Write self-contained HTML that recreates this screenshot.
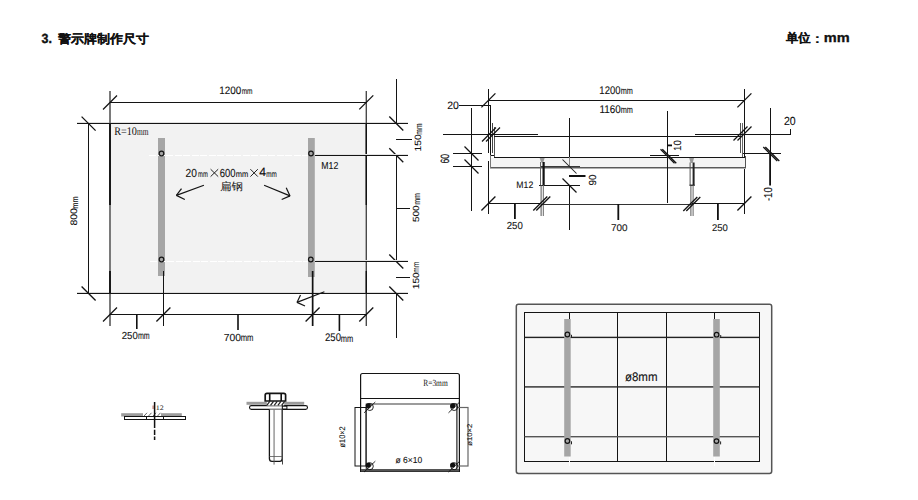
<!DOCTYPE html><html><head><meta charset="utf-8"><style>html,body{margin:0;padding:0;background:#fff;overflow:hidden}svg{display:block}</style></head><body>
<svg width="918" height="500" viewBox="0 0 918 500">
<rect width="918" height="500" fill="#fff"/>
<g id="rest">
<rect x="110" y="124" width="256" height="169" fill="#f2f2f2"/>
<rect x="158" y="138" width="7" height="138" fill="#a6a6a6"/>
<rect x="308" y="138" width="6.8" height="139" fill="#a6a6a6"/>
<line x1="149" y1="155.5" x2="308" y2="155.5" stroke="#fff" stroke-width="1" shape-rendering="crispEdges" stroke-dasharray="7 1.5"/>
<line x1="150" y1="261.5" x2="308" y2="261.5" stroke="#fff" stroke-width="1" shape-rendering="crispEdges" stroke-dasharray="7 1.5"/>
<rect x="77" y="122" width="331" height="1" fill="#e0e0e0"/>
<rect x="77" y="123" width="331" height="1" fill="#141414"/>
<rect x="77" y="292" width="331" height="1" fill="#dcdcdc"/>
<rect x="77" y="293" width="331" height="1" fill="#141414"/>
<rect x="109" y="91" width="2" height="235" fill="#7a7a7a"/>
<rect x="109" y="123" width="2" height="82" fill="#1a1a1a"/>
<rect x="109" y="271" width="2" height="23" fill="#1a1a1a"/>
<rect x="365.6" y="91" width="1.4" height="235" fill="#4a4a4a"/>
<rect x="365.6" y="123" width="1.4" height="82" fill="#111"/>
<rect x="365.6" y="271" width="1.4" height="23" fill="#111"/>
<rect x="110" y="102" width="257" height="1" fill="#141414"/>
<line x1="103" y1="109.5" x2="117" y2="95.5" stroke="#141414" stroke-width="1.3" />
<line x1="359.3" y1="109.4" x2="373.3" y2="95.4" stroke="#141414" stroke-width="1.3" />
<rect x="88" y="123" width="1" height="171" fill="#141414"/>
<line x1="81.6" y1="116.6" x2="95.6" y2="130.6" stroke="#141414" stroke-width="1.3" />
<line x1="81.6" y1="286.5" x2="95.6" y2="300.5" stroke="#141414" stroke-width="1.3" />
<rect x="396" y="79" width="1" height="45" fill="#141414"/>
<rect x="396" y="155" width="1" height="107" fill="#141414"/>
<rect x="396" y="293" width="1" height="45" fill="#141414"/>
<line x1="389.3" y1="116.5" x2="403.3" y2="130.5" stroke="#141414" stroke-width="1.3" />
<line x1="389.3" y1="148.3" x2="403.3" y2="162.3" stroke="#141414" stroke-width="1.3" />
<line x1="389.3" y1="254.5" x2="403.3" y2="268.5" stroke="#141414" stroke-width="1.3" />
<line x1="389.3" y1="286.5" x2="403.3" y2="300.5" stroke="#141414" stroke-width="1.3" />
<rect x="316" y="154" width="92" height="1" fill="#e4e4e4"/>
<rect x="315" y="155" width="93" height="1" fill="#141414"/>
<rect x="316" y="260" width="92" height="1" fill="#e4e4e4"/>
<rect x="315" y="261" width="93" height="1" fill="#141414"/>
<rect x="396" y="139" width="16" height="1" fill="#141414"/>
<rect x="396" y="208" width="14" height="1" fill="#141414"/>
<rect x="396" y="277" width="14" height="1" fill="#141414"/>
<circle cx="161.5" cy="153.5" r="2.3" fill="none" stroke="#141414" stroke-width="1.2"/>
<circle cx="161.5" cy="259.5" r="2.3" fill="none" stroke="#141414" stroke-width="1.2"/>
<circle cx="311" cy="153.5" r="2.3" fill="none" stroke="#141414" stroke-width="1.2"/>
<circle cx="310.8" cy="259.5" r="2.3" fill="none" stroke="#141414" stroke-width="1.2"/>
<rect x="163" y="271" width="1" height="55" fill="#141414"/>
<rect x="311.8" y="271" width="1.7" height="55" fill="#111"/>
<rect x="110" y="314" width="257" height="1" fill="#141414"/>
<line x1="103" y1="321.5" x2="117" y2="307.5" stroke="#141414" stroke-width="1.3" />
<line x1="156.4" y1="321.5" x2="170.4" y2="307.5" stroke="#141414" stroke-width="1.3" />
<line x1="305.6" y1="321.5" x2="319.6" y2="307.5" stroke="#141414" stroke-width="1.3" />
<line x1="359.3" y1="321.5" x2="373.3" y2="307.5" stroke="#141414" stroke-width="1.3" />
<rect x="136" y="314" width="1.6" height="15" fill="#111"/>
<rect x="237.2" y="314" width="1.6" height="16" fill="#111"/>
<rect x="338.6" y="314" width="1.6" height="17" fill="#111"/>
<line x1="210.6" y1="169.2" x2="218.2" y2="176.6" stroke="#222" stroke-width="1.0" />
<line x1="218.2" y1="169.2" x2="210.6" y2="176.6" stroke="#222" stroke-width="1.0" />
<line x1="250.4" y1="169.2" x2="257.8" y2="176.6" stroke="#222" stroke-width="1.0" />
<line x1="257.8" y1="169.2" x2="250.4" y2="176.6" stroke="#222" stroke-width="1.0" />
<line x1="203.9" y1="185.2" x2="176.4" y2="195.4" stroke="#141414" stroke-width="1.2" />
<line x1="176.4" y1="195.4" x2="181.5" y2="188.6" stroke="#141414" stroke-width="1.2" />
<line x1="176.4" y1="195.4" x2="184.8" y2="199.5" stroke="#141414" stroke-width="1.2" />
<line x1="264.1" y1="185.2" x2="290" y2="195.9" stroke="#141414" stroke-width="1.2" />
<line x1="290" y1="195.9" x2="286.2" y2="187.8" stroke="#141414" stroke-width="1.2" />
<line x1="290" y1="195.9" x2="281.7" y2="199.5" stroke="#141414" stroke-width="1.2" />
<line x1="324.4" y1="291.8" x2="297" y2="302.4" stroke="#141414" stroke-width="1.2" />
<line x1="297" y1="302.4" x2="300.5" y2="295" stroke="#141414" stroke-width="1.2" />
<line x1="297" y1="302.4" x2="305" y2="306" stroke="#141414" stroke-width="1.2" />
<rect x="488" y="89" width="1" height="64" fill="#141414"/>
<rect x="488" y="161" width="1" height="53" fill="#141414"/>
<rect x="744" y="89" width="1" height="125" fill="#141414"/>
<rect x="471" y="108" width="1" height="103" fill="#141414"/>
<rect x="488" y="100" width="257" height="1" fill="#141414"/>
<line x1="481.4" y1="107.4" x2="495.4" y2="93.4" stroke="#141414" stroke-width="1.3" />
<line x1="737.4" y1="107.4" x2="751.4" y2="93.4" stroke="#141414" stroke-width="1.3" />
<rect x="459" y="105" width="32" height="1" fill="#141414"/>
<rect x="490" y="105" width="1" height="51" fill="#141414"/>
<rect x="492" y="123" width="1" height="30" fill="#444"/>
<rect x="494" y="127" width="1" height="37" fill="#555"/>
<rect x="740" y="123" width="1" height="30" fill="#555"/>
<rect x="742" y="123" width="1" height="34" fill="#666"/>
<rect x="443" y="134" width="95" height="1" fill="#141414"/>
<rect x="494" y="136" width="247" height="1" fill="#141414"/>
<rect x="695" y="134" width="96" height="1" fill="#141414"/>
<rect x="790" y="129" width="1" height="6" fill="#141414"/>
<line x1="482" y1="141.5" x2="496" y2="127.5" stroke="#141414" stroke-width="1.3" />
<line x1="486" y1="141.5" x2="500" y2="127.5" stroke="#141414" stroke-width="1.3" />
<line x1="733.5" y1="140.5" x2="747.5" y2="126.5" stroke="#141414" stroke-width="1.3" />
<line x1="737.5" y1="140.5" x2="751.5" y2="126.5" stroke="#141414" stroke-width="1.3" />
<rect x="490.5" y="158" width="255" height="9" fill="#f4f4f4"/>
<rect x="494" y="157" width="251" height="1" fill="#141414"/>
<rect x="490" y="155" width="4" height="1" fill="#141414"/>
<rect x="490" y="167" width="256" height="1" fill="#5a5a5a"/>
<rect x="490" y="168" width="256" height="1" fill="#b0b0b0"/>
<rect x="490" y="155" width="1" height="13" fill="#777"/>
<rect x="745" y="156" width="1" height="12" fill="#555"/>
<rect x="743" y="153" width="38" height="1" fill="#141414"/>
<rect x="453" y="153" width="29" height="1" fill="#141414"/>
<rect x="453" y="166" width="29" height="1" fill="#141414"/>
<line x1="464.5" y1="146.5" x2="478.5" y2="160.5" stroke="#141414" stroke-width="1.3" />
<line x1="464.5" y1="159.5" x2="478.5" y2="173.5" stroke="#141414" stroke-width="1.3" />
<rect x="569" y="118" width="1" height="39" fill="#141414"/>
<rect x="569" y="157" width="1" height="9" fill="#888"/>
<rect x="569" y="185" width="1" height="45" fill="#141414"/>
<rect x="541" y="166" width="39" height="1" fill="#3a3a3a"/>
<rect x="539" y="185" width="41" height="1" fill="#141414"/>
<line x1="562.5" y1="159.5" x2="576.5" y2="173.5" stroke="#222" stroke-width="1.05" />
<line x1="562.5" y1="178.5" x2="576.5" y2="192.5" stroke="#141414" stroke-width="1.3" />
<rect x="569" y="175" width="16.5" height="2" fill="#111"/>
<path d="M539.7 158 L544.6 158 L543.2 162.5 L541.2 162.5 Z" fill="#9a9a9a"/>
<rect x="540" y="162" width="1" height="23" fill="#666"/>
<rect x="542.5" y="162" width="2.2" height="23" fill="#111"/>
<rect x="540.6" y="185" width="1" height="31" fill="#555"/>
<rect x="542.8" y="185" width="1" height="31" fill="#666"/>
<rect x="667" y="111" width="1" height="92" fill="#141414"/>
<rect x="650" y="155" width="29" height="1" fill="#141414"/>
<line x1="660.5" y1="149.3" x2="674.5" y2="163.3" stroke="#141414" stroke-width="1.3" />
<line x1="662.3" y1="149.3" x2="676.3" y2="163.3" stroke="#141414" stroke-width="1.3" />
<rect x="667" y="144.5" width="5" height="1.8" fill="#111"/>
<path d="M689.2 158 L694 158 L692.6 163 L690.6 163 Z" fill="#9a9a9a"/>
<rect x="689.6" y="162.5" width="1" height="23" fill="#555"/>
<rect x="692.6" y="162.5" width="2" height="23" fill="#222"/>
<rect x="689.6" y="184.6" width="5" height="1.4" fill="#222"/>
<rect x="690.4" y="185" width="1" height="31" fill="#555"/>
<rect x="692.6" y="185" width="1" height="31" fill="#666"/>
<rect x="488" y="203" width="53" height="1" fill="#141414"/>
<rect x="541" y="204" width="151" height="1" fill="#333"/>
<rect x="692" y="203" width="53" height="1" fill="#141414"/>
<line x1="481.4" y1="210.5" x2="495.4" y2="196.5" stroke="#141414" stroke-width="1.3" />
<line x1="533.3" y1="210.5" x2="547.3" y2="196.5" stroke="#141414" stroke-width="1.3" />
<line x1="536.3" y1="210.5" x2="550.3" y2="196.5" stroke="#141414" stroke-width="1.3" />
<line x1="683.3" y1="211" x2="697.3" y2="197" stroke="#141414" stroke-width="1.3" />
<line x1="686.3" y1="211" x2="700.3" y2="197" stroke="#141414" stroke-width="1.3" />
<line x1="737.4" y1="210.5" x2="751.4" y2="196.5" stroke="#141414" stroke-width="1.3" />
<rect x="514" y="203" width="1.8" height="16" fill="#111"/>
<rect x="617.4" y="204" width="1.8" height="16" fill="#111"/>
<rect x="717" y="203" width="1.8" height="17" fill="#111"/>
<rect x="770" y="108" width="1" height="46" fill="#141414"/>
<rect x="769.2" y="154" width="1.8" height="31.5" fill="#111"/>
<line x1="763.3" y1="147" x2="777.3" y2="161" stroke="#141414" stroke-width="1.3" />
<line x1="765.3" y1="147" x2="779.3" y2="161" stroke="#141414" stroke-width="1.3" />
<rect x="121.2" y="413.2" width="21.8" height="3.3" fill="#9c9c9c"/>
<rect x="161" y="413.2" width="20.8" height="3.3" fill="#9c9c9c"/>
<line x1="143.5" y1="416.6" x2="147.0" y2="412.8" stroke="#555" stroke-width="0.9" />
<line x1="148.0" y1="416.6" x2="151.5" y2="412.8" stroke="#555" stroke-width="0.9" />
<line x1="152.5" y1="416.6" x2="156.0" y2="412.8" stroke="#555" stroke-width="0.9" />
<line x1="157.0" y1="416.6" x2="160.5" y2="412.8" stroke="#555" stroke-width="0.9" />
<rect x="124.5" y="416.5" width="61" height="3" fill="#fff" stroke="#141414" stroke-width="1"/>
<rect x="146" y="416" width="1" height="4" fill="#141414"/>
<rect x="163" y="416" width="1" height="4" fill="#141414"/>
<path d="M154.6 402 V428 M154.6 429.8 V435 M154.6 436.5 V440" stroke="#111" stroke-width="1.5" fill="none"/>
<rect x="152.6" y="405.5" width="1" height="3.5" fill="#a54"/>
<rect x="246.5" y="401.8" width="57.7" height="3" fill="#9c9c9c"/>
<rect x="249.5" y="405.6" width="58" height="3.8" rx="1.9" fill="#fff" stroke="#141414" stroke-width="1.1"/>
<rect x="266.8" y="401.2" width="17.4" height="4.4" fill="#fff"/>
<line x1="266.8" y1="405.4" x2="269.8" y2="401.4" stroke="#222" stroke-width="1.2" />
<line x1="270.5" y1="405.4" x2="273.5" y2="401.4" stroke="#222" stroke-width="1.2" />
<line x1="274.2" y1="405.4" x2="277.2" y2="401.4" stroke="#222" stroke-width="1.2" />
<line x1="277.90000000000003" y1="405.4" x2="280.90000000000003" y2="401.4" stroke="#222" stroke-width="1.2" />
<line x1="281.6" y1="405.4" x2="284.6" y2="401.4" stroke="#222" stroke-width="1.2" />
<path d="M265.2 401 V395 Q265.2 393.3 267 393.3 H283.8 Q285.6 393.3 285.6 395 V401 Z" fill="#fff" stroke="#141414" stroke-width="1.7"/>
<rect x="268.9" y="393.5" width="1.6" height="7.5" fill="#111"/>
<rect x="280.4" y="393.5" width="1.6" height="7.5" fill="#111"/>
<path d="M269.4 409.4 L269.4 458.5 Q269.4 461.4 272 461.4 L279.6 461.4 Q282.2 461.4 282.2 458.5 L282.2 409.4" fill="#fff" stroke="#141414" stroke-width="1.3"/>
<rect x="273.6" y="409.6" width="0.9" height="55" fill="#555"/>
<rect x="282" y="405" width="1" height="59.5" fill="#444"/>
<rect x="282.3" y="406.2" width="4.6" height="2.8" fill="#fff" stroke="#111" stroke-width="1"/>
<line x1="269.5" y1="456.5" x2="282" y2="456.5" stroke="#555" stroke-width="0.8" />
<path d="M360.6 471.5 L360.6 375.5 Q360.6 373.5 362.6 373.5 L457.4 373.5 Q459.4 373.5 459.4 375.5 L459.4 471.5 Z" fill="#fff" stroke="#141414" stroke-width="1.2"/>
<rect x="360" y="398" width="100" height="1" fill="#141414"/>
<rect x="366.2" y="404" width="90.5" height="65.5" fill="none" stroke="#3a3a3a" stroke-width="1"/>
<rect x="361" y="469" width="98" height="2.5" fill="#555"/>
<rect x="355" y="407.5" width="11" height="58.5" fill="none" stroke="#141414" stroke-width="1"/>
<rect x="457" y="407.5" width="11" height="58.5" fill="none" stroke="#666" stroke-width="1.2"/>
<circle cx="368.3" cy="405.8" r="2.6" fill="#111"/>
<circle cx="369.8" cy="407.0" r="3.5" fill="none" stroke="#111" stroke-width="0.9"/>
<line x1="364.1" y1="412.8" x2="375.3" y2="402.0" stroke="#141414" stroke-width="0.9" />
<circle cx="452.7" cy="405.8" r="2.6" fill="#111"/>
<circle cx="454.2" cy="407.0" r="3.5" fill="none" stroke="#111" stroke-width="0.9"/>
<line x1="448.5" y1="412.8" x2="459.7" y2="402.0" stroke="#141414" stroke-width="0.9" />
<circle cx="368.3" cy="465" r="2.6" fill="#111"/>
<circle cx="369.8" cy="466.2" r="3.5" fill="none" stroke="#111" stroke-width="0.9"/>
<line x1="364.1" y1="472" x2="375.3" y2="461.2" stroke="#141414" stroke-width="0.9" />
<circle cx="452.7" cy="465" r="2.6" fill="#111"/>
<circle cx="454.2" cy="466.2" r="3.5" fill="none" stroke="#111" stroke-width="0.9"/>
<line x1="448.5" y1="472" x2="459.7" y2="461.2" stroke="#141414" stroke-width="0.9" />
<rect x="516.3" y="304.3" width="255.4" height="169.1" rx="2.2" fill="#f7f7f7" stroke="#555" stroke-width="1.5"/>
<rect x="524.5" y="312.5" width="235" height="149" fill="none" stroke="#141414" stroke-width="1" shape-rendering="crispEdges"/>
<rect x="617" y="312" width="1" height="149" fill="#141414"/>
<rect x="666" y="312" width="1" height="149" fill="#141414"/>
<rect x="569" y="312" width="1" height="8" fill="#141414"/>
<rect x="569" y="457" width="1" height="9" fill="#fff"/>
<rect x="714" y="312" width="1" height="8" fill="#141414"/>
<rect x="714" y="457" width="1" height="9" fill="#fff"/>
<rect x="524.5" y="336.7" width="235" height="1.4" fill="#222"/>
<rect x="524.5" y="386.2" width="235" height="1.4" fill="#2a2a2a"/>
<rect x="524.5" y="436.0" width="235" height="1.4" fill="#555"/>
<rect x="564.2" y="319" width="6.5" height="137.5" fill="#a6a6a6"/>
<rect x="713.2" y="319" width="6.6" height="137.5" fill="#a6a6a6"/>
<circle cx="567.4" cy="334.5" r="2.3" fill="none" stroke="#111" stroke-width="1.2"/>
<rect x="571.0" y="334.8" width="1" height="3" fill="#222"/>
<circle cx="716.6" cy="334.7" r="2.3" fill="none" stroke="#111" stroke-width="1.2"/>
<rect x="720.2" y="335.0" width="1" height="3" fill="#222"/>
<circle cx="567.4" cy="441" r="2.3" fill="none" stroke="#111" stroke-width="1.2"/>
<rect x="571.0" y="441.3" width="1" height="3" fill="#222"/>
<circle cx="716.5" cy="441.1" r="2.3" fill="none" stroke="#111" stroke-width="1.2"/>
<rect x="720.1" y="441.40000000000003" width="1" height="3" fill="#222"/>
</g>
<g class="tx" id="t_3" transform="translate(41.547 42.679) scale(0.9596 1.0181) "><text x="0" y="0" text-rendering="geometricPrecision" font-family="Liberation Sans" font-size="13" font-weight="bold" fill="#111" stroke="#111" stroke-width="0.35">3.</text></g>
<g class="tx" id="t_title" transform="translate(57.978 42.662) scale(1.0004 0.9389) "><text x="0" y="0" text-rendering="geometricPrecision" font-family="Liberation Sans" font-size="13" font-weight="bold" fill="#111" stroke="#111" stroke-width="0.15">警示牌制作尺寸</text></g>
<g class="tx" id="t_unit" transform="translate(785.945 42.194) scale(0.9445 0.9372) "><text x="0" y="0" text-rendering="geometricPrecision" font-family="Liberation Sans" font-size="13" font-weight="bold" fill="#111" stroke="#111" stroke-width="0.15">单位</text></g>
<g class="tx" id="t_colon" transform="translate(814.578 43.479) scale(1.4218 1.1334) "><text x="0" y="0" text-rendering="geometricPrecision" font-family="Liberation Sans" font-size="12" font-weight="bold" fill="#111">:</text></g>
<g class="tx" id="t_unitmm" transform="translate(823.705 42.111) scale(1.1205 1.0159) "><text x="0" y="0" text-rendering="geometricPrecision" font-family="Liberation Sans" font-size="13" font-weight="bold" fill="#111" stroke="#111" stroke-width="0.3">mm</text></g>
<g class="tx" id="f_1200" transform="translate(219.175 93.574) scale(0.9436 1.0181) "><text x="0" y="0" text-rendering="geometricPrecision" font-family="Liberation Sans" font-size="10.5" font-weight="normal" fill="#111" stroke="#111" stroke-width="0.1">1200</text></g>
<g class="tx" id="f_1200m" transform="translate(241.639 93.688) scale(0.7297 0.9724) "><text x="0" y="0" text-rendering="geometricPrecision" font-family="Liberation Sans" font-size="9" font-weight="normal" fill="#111" stroke="#111" stroke-width="0.1">mm</text></g>
<g class="tx" id="f_800" transform="translate(76.957 225.618) scale(0.9022 0.9954) rotate(-90)"><text x="0" y="0" text-rendering="geometricPrecision" font-family="Liberation Sans" font-size="10.5" font-weight="normal" fill="#111" stroke="#111" stroke-width="0.1">800</text></g>
<g class="tx" id="f_800m" transform="translate(77.878 208.667) scale(0.9785 0.8334) rotate(-90)"><text x="0" y="0" text-rendering="geometricPrecision" font-family="Liberation Sans" font-size="9" font-weight="normal" fill="#111" stroke="#111" stroke-width="0.1">mm</text></g>
<g class="tx" id="f_150a" transform="translate(421.127 151.495) scale(0.8628 0.9806) rotate(-90)"><text x="0" y="0" text-rendering="geometricPrecision" font-family="Liberation Sans" font-size="10.5" font-weight="normal" fill="#111" stroke="#111" stroke-width="0.1">150</text></g>
<g class="tx" id="f_150am" transform="translate(422.208 134.707) scale(1.0417 0.7518) rotate(-90)"><text x="0" y="0" text-rendering="geometricPrecision" font-family="Liberation Sans" font-size="9" font-weight="normal" fill="#111" stroke="#111" stroke-width="0.1">mm</text></g>
<g class="tx" id="f_500" transform="translate(419.343 222.056) scale(0.8454 0.9477) rotate(-90)"><text x="0" y="0" text-rendering="geometricPrecision" font-family="Liberation Sans" font-size="10.5" font-weight="normal" fill="#111" stroke="#111" stroke-width="0.1">500</text></g>
<g class="tx" id="f_500m" transform="translate(420.000 204.791) scale(1.0000 0.7842) rotate(-90)"><text x="0" y="0" text-rendering="geometricPrecision" font-family="Liberation Sans" font-size="9" font-weight="normal" fill="#111" stroke="#111" stroke-width="0.1">mm</text></g>
<g class="tx" id="f_150b" transform="translate(418.744 289.126) scale(0.8454 0.9471) rotate(-90)"><text x="0" y="0" text-rendering="geometricPrecision" font-family="Liberation Sans" font-size="10.5" font-weight="normal" fill="#111" stroke="#111" stroke-width="0.1">150</text></g>
<g class="tx" id="f_150bm" transform="translate(419.400 272.684) scale(1.0000 0.7325) rotate(-90)"><text x="0" y="0" text-rendering="geometricPrecision" font-family="Liberation Sans" font-size="9" font-weight="normal" fill="#111" stroke="#111" stroke-width="0.1">mm</text></g>
<g class="tx" id="f_250a" transform="translate(121.780 339.157) scale(0.9153 0.9706) "><text x="0" y="0" text-rendering="geometricPrecision" font-family="Liberation Sans" font-size="10.5" font-weight="normal" fill="#111" stroke="#111" stroke-width="0.1">250</text></g>
<g class="tx" id="f_250am" transform="translate(137.968 339.260) scale(0.7829 1.1273) "><text x="0" y="0" text-rendering="geometricPrecision" font-family="Liberation Sans" font-size="9" font-weight="normal" fill="#111" stroke="#111" stroke-width="0.1">mm</text></g>
<g class="tx" id="f_700" transform="translate(223.753 341.157) scale(0.9843 0.9706) "><text x="0" y="0" text-rendering="geometricPrecision" font-family="Liberation Sans" font-size="10.5" font-weight="normal" fill="#111" stroke="#111" stroke-width="0.1">700</text></g>
<g class="tx" id="f_700m" transform="translate(240.659 341.260) scale(0.8514 1.1273) "><text x="0" y="0" text-rendering="geometricPrecision" font-family="Liberation Sans" font-size="9" font-weight="normal" fill="#111" stroke="#111" stroke-width="0.1">mm</text></g>
<g class="tx" id="f_250b" transform="translate(325.000 341.381) scale(0.9127 1.0547) "><text x="0" y="0" text-rendering="geometricPrecision" font-family="Liberation Sans" font-size="10.5" font-weight="normal" fill="#111" stroke="#111" stroke-width="0.1">250</text></g>
<g class="tx" id="f_250bm" transform="translate(340.723 342.258) scale(0.8266 1.1273) "><text x="0" y="0" text-rendering="geometricPrecision" font-family="Liberation Sans" font-size="9" font-weight="normal" fill="#111" stroke="#111" stroke-width="0.1">mm</text></g>
<g class="tx" id="f_r10" transform="translate(114.205 135.381) scale(0.9258 1.0547) "><text x="0" y="0" text-rendering="geometricPrecision" font-family="Liberation Serif" font-size="11" font-weight="normal" fill="#111">R=10</text></g>
<g class="tx" id="f_r10m" transform="translate(136.945 135.390) scale(0.8183 1.1273) "><text x="0" y="0" text-rendering="geometricPrecision" font-family="Liberation Serif" font-size="9" font-weight="normal" fill="#111">mm</text></g>
<g class="tx" id="f_m12" transform="translate(321.242 168.683) scale(0.8752 1.0100) "><text x="0" y="0" text-rendering="geometricPrecision" font-family="Liberation Sans" font-size="10" font-weight="normal" fill="#111" stroke="#111" stroke-width="0.1">M12</text></g>
<g class="tx" id="f_20" transform="translate(185.593 176.626) scale(0.9720 1.1093) "><text x="0" y="0" text-rendering="geometricPrecision" font-family="Liberation Sans" font-size="10.5" font-weight="normal" fill="#111" stroke="#111" stroke-width="0.1">20</text></g>
<g class="tx" id="f_20m" transform="translate(198.073 176.688) scale(0.6483 0.9724) "><text x="0" y="0" text-rendering="geometricPrecision" font-family="Liberation Sans" font-size="9" font-weight="normal" fill="#111" stroke="#111" stroke-width="0.1">mm</text></g>
<g class="tx" id="f_600" transform="translate(219.706 176.626) scale(0.9006 1.1093) "><text x="0" y="0" text-rendering="geometricPrecision" font-family="Liberation Sans" font-size="10.5" font-weight="normal" fill="#111" stroke="#111" stroke-width="0.1">600</text></g>
<g class="tx" id="f_600m" transform="translate(235.629 176.688) scale(0.8358 0.9724) "><text x="0" y="0" text-rendering="geometricPrecision" font-family="Liberation Sans" font-size="9" font-weight="normal" fill="#111" stroke="#111" stroke-width="0.1">mm</text></g>
<g class="tx" id="f_4" transform="translate(259.293 176.463) scale(1.1653 1.1269) "><text x="0" y="0" text-rendering="geometricPrecision" font-family="Liberation Sans" font-size="10.5" font-weight="normal" fill="#111" stroke="#111" stroke-width="0.1">4</text></g>
<g class="tx" id="f_4m" transform="translate(266.216 176.688) scale(0.7034 0.9724) "><text x="0" y="0" text-rendering="geometricPrecision" font-family="Liberation Sans" font-size="9" font-weight="normal" fill="#111" stroke="#111" stroke-width="0.1">mm</text></g>
<g class="tx" id="f_bg" transform="translate(220.044 190.397) scale(1.0969 1.0153) "><text x="0" y="0" text-rendering="geometricPrecision" font-family="Liberation Sans" font-size="10.5" font-weight="normal" fill="#111">扁钢</text></g>
<g class="tx" id="s_1200" transform="translate(599.366 93.876) scale(0.9060 1.0547) "><text x="0" y="0" text-rendering="geometricPrecision" font-family="Liberation Sans" font-size="10.5" font-weight="normal" fill="#111" stroke="#111" stroke-width="0.1">1200</text></g>
<g class="tx" id="s_1200m" transform="translate(620.733 93.816) scale(0.8119 1.0822) "><text x="0" y="0" text-rendering="geometricPrecision" font-family="Liberation Sans" font-size="9" font-weight="normal" fill="#111" stroke="#111" stroke-width="0.1">mm</text></g>
<g class="tx" id="s_1160" transform="translate(599.378 113.000) scale(0.9429 1.0547) "><text x="0" y="0" text-rendering="geometricPrecision" font-family="Liberation Sans" font-size="10.5" font-weight="normal" fill="#111" stroke="#111" stroke-width="0.1">1160</text></g>
<g class="tx" id="s_1160m" transform="translate(620.733 113.000) scale(0.8119 1.0822) "><text x="0" y="0" text-rendering="geometricPrecision" font-family="Liberation Sans" font-size="9" font-weight="normal" fill="#111" stroke="#111" stroke-width="0.1">mm</text></g>
<g class="tx" id="s_20a" transform="translate(447.289 109.000) scale(0.9981 1.0159) "><text x="0" y="0" text-rendering="geometricPrecision" font-family="Liberation Sans" font-size="10.5" font-weight="normal" fill="#111" stroke="#111" stroke-width="0.1">20</text></g>
<g class="tx" id="s_20b" transform="translate(784.000 125.000) scale(1.0047 1.1153) "><text x="0" y="0" text-rendering="geometricPrecision" font-family="Liberation Sans" font-size="10.5" font-weight="normal" fill="#111" stroke="#111" stroke-width="0.1">20</text></g>
<g class="tx" id="s_60" transform="translate(448.791 163.465) scale(1.1485 0.8253) rotate(-90)"><text x="0" y="0" text-rendering="geometricPrecision" font-family="Liberation Sans" font-size="10.5" font-weight="normal" fill="#111" stroke="#111" stroke-width="0.1">60</text></g>
<g class="tx" id="s_90" transform="translate(595.581 185.597) scale(0.9759 0.9398) rotate(-90)"><text x="0" y="0" text-rendering="geometricPrecision" font-family="Liberation Sans" font-size="10.5" font-weight="normal" fill="#111" stroke="#111" stroke-width="0.1">90</text></g>
<g class="tx" id="s_10" transform="translate(681.406 151.000) scale(1.0000 0.9259) rotate(-90)"><text x="0" y="0" text-rendering="geometricPrecision" font-family="Liberation Sans" font-size="10.5" font-weight="normal" fill="#111" stroke="#111" stroke-width="0.1">10</text></g>
<g class="tx" id="s_m10" transform="translate(771.614 201.096) scale(1.0992 0.9107) rotate(-90)"><text x="0" y="0" text-rendering="geometricPrecision" font-family="Liberation Sans" font-size="10.5" font-weight="normal" fill="#111" stroke="#111" stroke-width="0.1">-10</text></g>
<g class="tx" id="s_m12" transform="translate(516.351 187.721) scale(0.8672 0.9463) "><text x="0" y="0" text-rendering="geometricPrecision" font-family="Liberation Sans" font-size="10" font-weight="normal" fill="#111" stroke="#111" stroke-width="0.1">M12</text></g>
<g class="tx" id="s_250a" transform="translate(506.724 229.000) scale(0.9157 0.9706) "><text x="0" y="0" text-rendering="geometricPrecision" font-family="Liberation Sans" font-size="10.5" font-weight="normal" fill="#111" stroke="#111" stroke-width="0.1">250</text></g>
<g class="tx" id="s_700" transform="translate(611.079 231.256) scale(0.9415 0.9317) "><text x="0" y="0" text-rendering="geometricPrecision" font-family="Liberation Sans" font-size="10.5" font-weight="normal" fill="#111" stroke="#111" stroke-width="0.1">700</text></g>
<g class="tx" id="s_250b" transform="translate(711.915 231.256) scale(0.9049 0.9317) "><text x="0" y="0" text-rendering="geometricPrecision" font-family="Liberation Sans" font-size="10.5" font-weight="normal" fill="#111" stroke="#111" stroke-width="0.1">250</text></g>
<g class="tx" id="d_12" transform="translate(155.864 410.000) scale(1.1360 1.0000) "><text x="0" y="0" text-rendering="geometricPrecision" font-family="Liberation Serif" font-size="7" font-weight="normal" fill="#111">12</text></g>
<g class="tx" id="d_r3" transform="translate(423.209 386.253) scale(0.8290 1.0421) "><text x="0" y="0" text-rendering="geometricPrecision" font-family="Liberation Serif" font-size="9" font-weight="normal" fill="#111">R=3mm</text></g>
<g class="tx" id="d_610" transform="translate(395.489 463.171) scale(1.0019 1.0286) "><text x="0" y="0" text-rendering="geometricPrecision" font-family="Liberation Sans" font-size="8.5" font-weight="normal" fill="#111" stroke="#111" stroke-width="0.1">ø 6×10</text></g>
<g class="tx" id="d_102a" transform="translate(344.640 447.439) scale(1.0286 0.9237) rotate(-90)"><text x="0" y="0" text-rendering="geometricPrecision" font-family="Liberation Sans" font-size="8" font-weight="normal" fill="#111" stroke="#111" stroke-width="0.1">ø10×2</text></g>
<g class="tx" id="d_102b" transform="translate(472.224 445.627) scale(0.8744 0.9585) rotate(-90)"><text x="0" y="0" text-rendering="geometricPrecision" font-family="Liberation Sans" font-size="8" font-weight="normal" fill="#111" stroke="#111" stroke-width="0.1">ø10×2</text></g>
<g class="tx" id="p_8mm" transform="translate(624.911 381.117) scale(1.0449 1.1302) "><text x="0" y="0" text-rendering="geometricPrecision" font-family="Liberation Sans" font-size="11" font-weight="normal" fill="#111" stroke="#111" stroke-width="0.1">ø8mm</text></g>
</svg></body></html>
